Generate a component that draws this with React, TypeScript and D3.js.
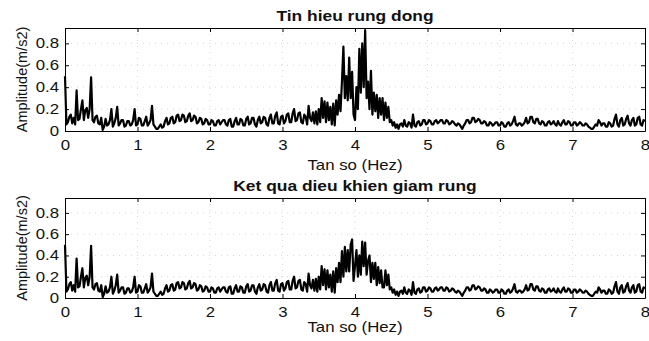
import React, { useEffect, useRef } from "react";
import * as d3 from "d3";

// frequency axis, 0..8 Hz in steps of 0.02
const freqs = d3.range(0, 8.0001, 0.02);
const xTicks = [0, 1, 2, 3, 4, 5, 6, 7, 8];
const yTicks = [0, 0.2, 0.4, 0.6, 0.8];

// spectrum before control, one row = 0.2 Hz
const ampBefore = [
  0.50, 0.06, 0.08, 0.13, 0.15, 0.07, 0.12, 0.06, 0.37, 0.10,
  0.11, 0.20, 0.28, 0.10, 0.19, 0.21, 0.12, 0.20, 0.49, 0.10,
  0.08, 0.13, 0.14, 0.07, 0.06, 0.12, 0.01, 0.04, 0.11, 0.05,
  0.06, 0.10, 0.20, 0.04, 0.07, 0.12, 0.22, 0.05, 0.07, 0.10,
  0.10, 0.04, 0.05, 0.09, 0.09, 0.05, 0.06, 0.10, 0.20, 0.05,
  0.06, 0.12, 0.11, 0.05, 0.05, 0.09, 0.13, 0.05, 0.07, 0.10,
  0.23, 0.06, 0.04, 0.02, 0.02, 0.04, 0.06, 0.03, 0.04, 0.09,
  0.12, 0.06, 0.07, 0.12, 0.13, 0.07, 0.08, 0.14, 0.15, 0.09,
  0.10, 0.15, 0.14, 0.08, 0.09, 0.14, 0.16, 0.09, 0.10, 0.14,
  0.13, 0.07, 0.08, 0.12, 0.11, 0.06, 0.07, 0.11, 0.10, 0.06,
  0.06, 0.10, 0.09, 0.05, 0.05, 0.09, 0.10, 0.06, 0.08, 0.10,
  0.10, 0.06, 0.05, 0.10, 0.11, 0.04, 0.04, 0.09, 0.12, 0.06,
  0.06, 0.11, 0.10, 0.05, 0.05, 0.11, 0.13, 0.06, 0.07, 0.12,
  0.12, 0.06, 0.04, 0.10, 0.13, 0.07, 0.08, 0.13, 0.12, 0.06,
  0.05, 0.12, 0.15, 0.07, 0.07, 0.14, 0.17, 0.07, 0.06, 0.13,
  0.14, 0.07, 0.09, 0.15, 0.16, 0.08, 0.08, 0.16, 0.20, 0.09,
  0.10, 0.16, 0.17, 0.08, 0.07, 0.15, 0.13, 0.06, 0.23, 0.12,
  0.09, 0.17, 0.07, 0.18, 0.06, 0.20, 0.08, 0.30, 0.12, 0.27,
  0.08, 0.26, 0.10, 0.22, 0.06, 0.25, 0.05, 0.28, 0.15, 0.33,
  0.18, 0.45, 0.77, 0.30, 0.50, 0.28, 0.67, 0.30, 0.54, 0.15,
  0.10, 0.40, 0.20, 0.75, 0.35, 0.80, 0.40, 0.92, 0.30, 0.45,
  0.20, 0.55, 0.15, 0.35, 0.18, 0.33, 0.12, 0.30, 0.15, 0.30,
  0.10, 0.26, 0.12, 0.22, 0.08, 0.10, 0.05, 0.08, 0.03, 0.06,
  0.02, 0.06, 0.07, 0.04, 0.10, 0.05, 0.04, 0.08, 0.07, 0.03,
  0.15, 0.05, 0.04, 0.08, 0.09, 0.05, 0.06, 0.10, 0.10, 0.06,
  0.07, 0.10, 0.09, 0.06, 0.06, 0.09, 0.10, 0.07, 0.08, 0.10,
  0.10, 0.07, 0.07, 0.10, 0.09, 0.06, 0.07, 0.09, 0.08, 0.06,
  0.05, 0.07, 0.06, 0.04, 0.02, 0.05, 0.07, 0.10, 0.10, 0.07,
  0.08, 0.12, 0.12, 0.08, 0.09, 0.11, 0.10, 0.07, 0.07, 0.09,
  0.08, 0.05, 0.05, 0.08, 0.07, 0.05, 0.06, 0.08, 0.08, 0.05,
  0.05, 0.08, 0.07, 0.04, 0.04, 0.07, 0.08, 0.05, 0.06, 0.09,
  0.13, 0.06, 0.05, 0.07, 0.07, 0.05, 0.06, 0.08, 0.12, 0.07,
  0.08, 0.13, 0.13, 0.08, 0.07, 0.11, 0.11, 0.07, 0.06, 0.09,
  0.08, 0.05, 0.05, 0.08, 0.09, 0.06, 0.07, 0.09, 0.06, 0.05,
  0.09, 0.06, 0.05, 0.08, 0.10, 0.06, 0.06, 0.09, 0.08, 0.05,
  0.05, 0.08, 0.08, 0.05, 0.06, 0.08, 0.07, 0.05, 0.05, 0.07,
  0.06, 0.04, 0.03, 0.02, 0.02, 0.04, 0.06, 0.05, 0.10, 0.08,
  0.05, 0.07, 0.07, 0.04, 0.04, 0.08, 0.07, 0.04, 0.05, 0.11,
  0.15, 0.06, 0.04, 0.10, 0.12, 0.05, 0.06, 0.11, 0.14, 0.07,
  0.05, 0.10, 0.12, 0.05, 0.06, 0.12, 0.13, 0.06, 0.05, 0.10,
  0.09,
];

// after control the 3.80..4.38 Hz band is lower (lower plot); rest is unchanged
const afterPeakStart = 190; // index of 3.80 Hz
const afterPeak = [
  0.15, 0.44, 0.20, 0.48, 0.25, 0.45, 0.25, 0.50, 0.55, 0.16,
  0.30, 0.45, 0.20, 0.40, 0.22, 0.53, 0.30, 0.52, 0.22, 0.35,
  0.40, 0.15, 0.33, 0.18, 0.33, 0.12, 0.29, 0.14, 0.26, 0.10,
];
const ampAfter = [
  ...ampBefore.slice(0, afterPeakStart),
  ...afterPeak,
  ...ampBefore.slice(afterPeakStart + afterPeak.length),
];

const titles = ["Tin hieu rung dong", "Ket qua dieu khien giam rung"];
const xLabel = "Tan so (Hez)";
const yLabel = "Amplitude(m/s2)";

const W = 649;
const H = 341;
const FONT = "'Liberation Sans', Arial, Helvetica, sans-serif";
const STRETCH = "scale(1.2,1)"; // the scan is a bit wider than tall

const panels = [
  { top: 28, bottom: 131, data: ampBefore, title: titles[0], titleY: 21, labelY: 170 },
  { top: 198, bottom: 298, data: ampAfter, title: titles[1], titleY: 191, labelY: 332 },
];

const App = () => {
  const svgRef = useRef<SVGSVGElement>(null);

  useEffect(() => {
    const svg = d3.select(svgRef.current);
    svg.selectAll("*").remove();

    const left = 65;
    const right = 645;

    panels.forEach((p) => {
      const x = d3.scaleLinear().domain([0, 8]).range([left, right]);
      const y = d3.scaleLinear().domain([0, 0.94]).range([p.bottom, p.top]);
      const g = svg.append("g");

      // faint dotted grid
      g.append("g")
        .selectAll("line")
        .data(xTicks.slice(1, -1))
        .join("line")
        .attr("x1", (d) => x(d))
        .attr("x2", (d) => x(d))
        .attr("y1", p.top)
        .attr("y2", p.bottom)
        .attr("stroke", "#d8d8d8")
        .attr("stroke-dasharray", "1,5");
      g.append("g")
        .selectAll("line")
        .data(yTicks.slice(1))
        .join("line")
        .attr("x1", left)
        .attr("x2", right)
        .attr("y1", (d) => y(d))
        .attr("y2", (d) => y(d))
        .attr("stroke", "#d8d8d8")
        .attr("stroke-dasharray", "1,5");

      const line = d3
        .line<number>()
        .x((d, i) => x(freqs[i]))
        .y((d) => y(d));

      g.append("path")
        .datum(p.data)
        .attr("d", line)
        .attr("fill", "none")
        .attr("stroke", "#000")
        .attr("stroke-width", 2.2)
        .attr("stroke-linejoin", "round");

      // box with inward ticks
      const xb = d3.axisBottom(x).tickValues(xTicks).tickSizeInner(-4).tickSizeOuter(0).tickPadding(9).tickFormat(d3.format("d"));
      const xt = d3.axisTop(x).tickValues(xTicks).tickSizeInner(-4).tickSizeOuter(0).tickFormat(() => "");
      const yl = d3
        .axisLeft(y)
        .tickValues(yTicks)
        .tickSizeInner(-4)
        .tickSizeOuter(0)
        .tickPadding(5)
        .tickFormat((d) => (d === 0 ? "0" : (+d).toFixed(1)));
      const yr = d3.axisRight(y).tickValues(yTicks).tickSizeInner(-4).tickSizeOuter(0).tickFormat(() => "");

      const axes = [
        g.append("g").attr("transform", `translate(0,${p.bottom})`).call(xb),
        g.append("g").attr("transform", `translate(0,${p.top})`).call(xt),
        g.append("g").attr("transform", `translate(${left},0)`).call(yl),
        g.append("g").attr("transform", `translate(${right},0)`).call(yr),
      ];
      axes.forEach((a) => {
        a.select(".domain").attr("stroke", "#000").attr("stroke-width", 1);
        a.selectAll(".tick line").attr("stroke", "#000");
        a.selectAll(".tick text")
          .attr("fill", "#111")
          .attr("font-family", FONT)
          .attr("font-size", 14)
          .attr("transform", STRETCH);
      });

      // title
      g.append("text")
        .attr("transform", `translate(${(left + right) / 2},${p.titleY}) ${STRETCH}`)
        .attr("text-anchor", "middle")
        .attr("font-family", FONT)
        .attr("font-size", 14.5)
        .attr("font-weight", "bold")
        .attr("fill", "#111")
        .text(p.title);

      // x label
      g.append("text")
        .attr("transform", `translate(${(left + right) / 2},${p.labelY}) ${STRETCH}`)
        .attr("text-anchor", "middle")
        .attr("font-family", FONT)
        .attr("font-size", 14)
        .attr("fill", "#111")
        .text(xLabel);

      // y label
      g.append("text")
        .attr("transform", `translate(27,${(p.top + p.bottom) / 2}) rotate(-90)`)
        .attr("text-anchor", "middle")
        .attr("font-family", FONT)
        .attr("font-size", 14.5)
        .attr("fill", "#111")
        .text(yLabel);
    });
  }, []);

  return (
    <svg
      ref={svgRef}
      width={W}
      height={H}
      style={{ position: "absolute", left: 0, top: 0, background: "#fff" }}
    />
  );
};

export default App;
